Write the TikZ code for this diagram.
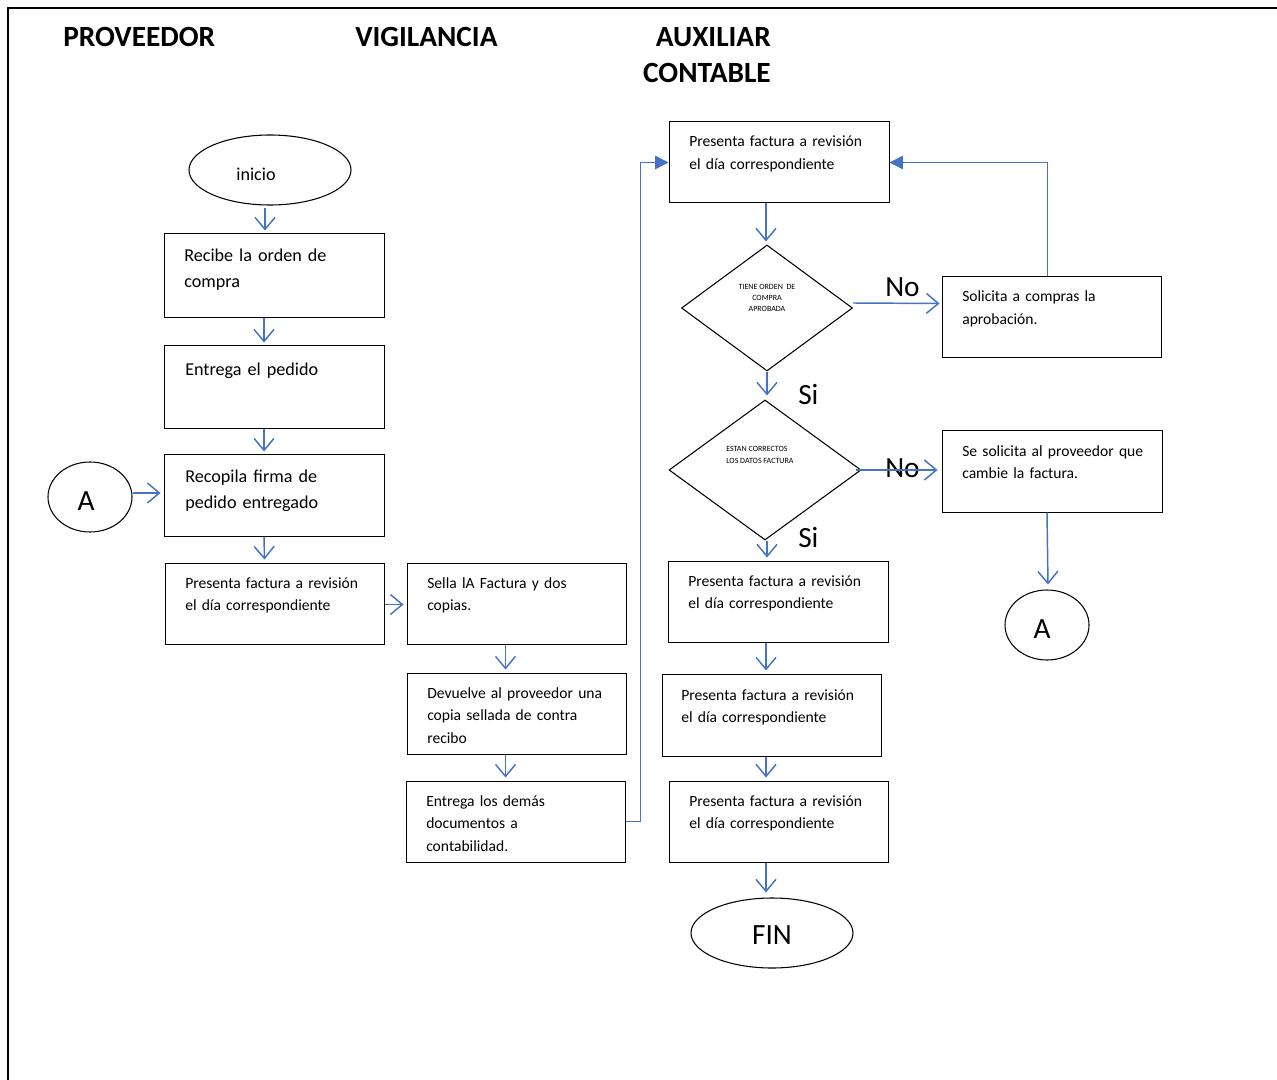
\documentclass[tikz,border=0pt]{standalone}
\usepackage{fontspec}
\setmainfont{Carlito}
\usetikzlibrary{arrows.meta,shapes.geometric,calc,fit}
\definecolor{lblue}{RGB}{68,114,196}
\begin{document}
\begin{tikzpicture}[x=0.75pt,y=-0.75pt,
  box/.style={draw=black, line width=0.75pt, rectangle, inner sep=0pt},
  txt/.style={anchor=base west, inner sep=0pt, align=left, text width=190pt, font=\fontsize{11.7}{17}\selectfont},
  txtb/.style={txt, font=\fontsize{13.6}{19.5}\selectfont},
  head/.style={anchor=base west, inner sep=0pt, font=\fontsize{22}{27}\selectfont\bfseries},
  big/.style={inner sep=0pt, font=\fontsize{22}{27}\selectfont},
  arr/.style={draw=lblue, line width=1.1pt, -{Straight Barb[length=9pt,width=15pt,line width=1.1pt]}},
  farr/.style={draw=lblue, line width=1.1pt, -{Triangle[length=10pt,width=10pt]}},
  oval/.style={draw=black, ellipse, line width=0.8pt, inner sep=0pt},
  dia/.style={draw=black, diamond, line width=0.8pt, inner sep=0pt},
  tiny/.style={inner sep=0pt, align=center, font=\fontsize{6}{8.4}\selectfont}
]
\useasboundingbox (0,0) rectangle (1277,1080);
% frame
\draw[line width=1.5pt] (8,1080) -- (8,8) -- (1277,8);

% headers
\node[head] (h1) at (63,47) {PROVEEDOR};
\node[head] (h2) at (355,47) {VIGILANCIA};
\node[inner sep=0pt, anchor=north east, align=right, font=\fontsize{22}{27}\selectfont\bfseries] (h3) at (771,27) {AUXILIAR\\CONTABLE};

% column 1
\node[oval, minimum width=121.5pt, minimum height=52.5pt] (inicio) at (270,170) {};
\node[inner sep=0pt, font=\fontsize{13.6}{17}\selectfont] (tinicio) at (256,174) {inicio};
\node[box, fit={(164,234) (384,318)}] (b1) {};
\node[txtb] (t1) at (184,262) {Recibe la orden de\\compra};
\node[box, fit={(164,346) (384,428)}] (b2) {};
\node[txtb] (t2) at (185,375) {Entrega el pedido};
\node[box, fit={(164,454) (384,536)}] (b3) {};
\node[txtb] (t3) at (185,482) {Recopila firma de\\pedido entregado};
\node[box, fit={(165,563) (384,644)}] (b4) {};
\node[txt] (t4) at (185,588) {Presenta factura a revisión\\el día correspondiente};
\node[oval, minimum width=63pt, minimum height=52.5pt] (A1) at (90,497) {};
\node[big] (tA1) at (86,501) {A};

% column 2
\node[box, fit={(407,563) (626,644)}] (b5) {};
\node[txt] (t5) at (427,588) {Sella lA Factura y dos\\copias.};
\node[box, fit={(407,673) (626,754)}] (b6) {};
\node[txt] (t6) at (427,698) {Devuelve al proveedor una\\copia sellada de contra\\recibo};
\node[box, fit={(406,781) (625,862)}] (b7) {};
\node[txt] (t7) at (426,806) {Entrega los demás\\documentos a\\contabilidad.};

% column 3
\node[box, fit={(669,122) (889,203)}] (b8) {};
\node[txt] (t8) at (689,147) {Presenta factura a revisión\\el día correspondiente};
\node[dia, minimum width=128.25pt, minimum height=94.5pt] (d1) at (767,308) {};
\node[tiny] (td1) at (767,298) {TIENE ORDEN\ \ DE\\COMPRA\\APROBADA};
\node[box, fit={(942,277) (1161,358)}] (b9) {};
\node[txt] (t9) at (962,302) {Solicita a compras la\\aprobación.};
\node[dia, minimum width=144pt, minimum height=105pt] (d2) at (765,470) {};
\node[tiny, align=left, anchor=west] (td2) at (726,455) {ESTAN CORRECTOS\\LOS DATOS FACTURA};
\node[box, fit={(942,430) (1162,512)}] (b10) {};
\node[txt] (t10) at (962,456) {Se solicita al proveedor que\\cambie la factura.};
\node[oval, minimum width=63pt, minimum height=52.5pt] (A2) at (1047,625) {};
\node[big] (tA2) at (1042,629) {A};
\node[box, fit={(668,561) (888,642)}] (b11) {};
\node[txt] (t11) at (688,586) {Presenta factura a revisión\\el día correspondiente};
\node[box, fit={(662,674) (881,756)}] (b12) {};
\node[txt] (t12) at (681,700) {Presenta factura a revisión\\el día correspondiente};
\node[box, fit={(669,781) (888,862)}] (b13) {};
\node[txt] (t13) at (689,806) {Presenta factura a revisión\\el día correspondiente};
\node[oval, minimum width=121.5pt, minimum height=52.5pt] (fin) at (772,933) {};
\node[big] (tfin) at (772,935) {FIN};

% labels
\node[big, anchor=base west] (no1) at (885,297) {No};
\node[big, anchor=base west] (si1) at (798,404) {Si};
\node[big, anchor=base west] (no2) at (885,477) {No};
\node[big, anchor=base west] (si2) at (798,547) {Si};

% connectors column 1
\draw[arr] ($(inicio.south)+(-5,2)$) -- ($(b1.north)+(-9,-3)$);
\draw[arr] ($(b1.south)+(-10,0)$) -- ($(b2.north)+(-10,-3)$);
\draw[arr] ($(b2.south)+(-10,0)$) -- ($(b3.north)+(-10,-2)$);
\draw[arr] ($(b3.south)+(-10,0)$) -- ($(b4.north)+(-10,-3)$);
\draw[arr] ($(A1.east)+(0,-4)$) -- ($(b3.west)+(-3,-2)$);
\draw[arr] ($(b4.east)+(0,1)$) -- ($(b5.west)+(-3,1)$);
% column 2
\draw[arr] ($(b5.south)+(-11,0)$) -- ($(b6.north)+(-11,-3)$);
\draw[arr] ($(b6.south)+(-11,0)$) -- ($(b7.north)+(-10,-3)$);
\draw[farr] (b7.east) -- ++(15,0) |- (b8.west);
% column 3
\draw[arr] ($(b8.south)+(-13,0)$) -- ($(d1.north)+(-1,-3)$);
\draw[arr] ($(d1.east)+(0,-5)$) -- ($(b9.west)+(-2,-14)$);
\draw[farr] ($(b9.north)+(-4,0)$) |- (b8.east);
\draw[arr] (d1.south) -- ($(d2.north)+(2,-4)$);
\draw[arr] ($(d2.east)+(-6,0)$) -- ($(b10.west)+(-4,-1)$);
\draw[arr] ($(b10.south)+(-5,0)$) -- ($(A2.north)+(1,-5)$);
\draw[arr] ($(d2.south)+(2,0)$) -- ($(b11.north)+(-11,-3)$);
\draw[arr] ($(b11.south)+(-12,0)$) -- ($(b12.north)+(-5.5,-3)$);
\draw[arr] ($(b12.south)+(-5.5,0)$) -- ($(b13.north)+(-12.5,-3)$);
\draw[arr] ($(b13.south)+(-12.5,0)$) -- ($(fin.north)+(-6,-5)$);
\end{tikzpicture}
\end{document}
